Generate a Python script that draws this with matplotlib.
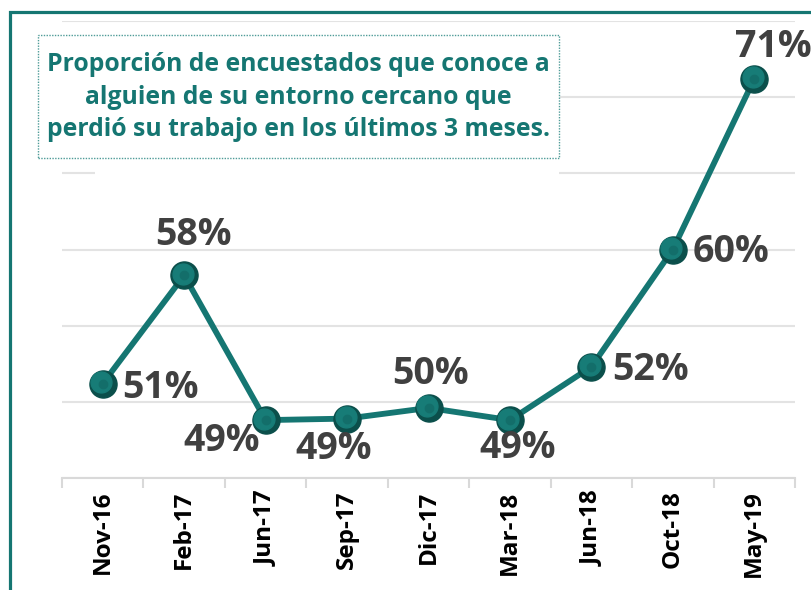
import matplotlib.pyplot as plt
from matplotlib.patches import Rectangle
from matplotlib.transforms import offset_copy

meses = ["Nov-16", "Feb-17", "Jun-17", "Sep-17", "Dic-17", "Mar-18", "Jun-18", "Oct-18", "May-19"]
valores = [51.2, 58.3, 48.8, 48.9, 49.6, 48.8, 52.3, 60.0, 71.2]
# desplazamiento de cada etiqueta respecto al punto (pixeles)
desp = [(58, -4), (9, 40), (-44, -21), (-13, -30), (2, 34), (8, -28), (59, -3), (58, -3), (19, 32)]

titulo = ("Proporción de encuestados que conoce a\n"
          "alguien de su entorno cercano que\n"
          "perdió su trabajo en los últimos 3 meses.")

teal = "#157672"
gris = "#404040"
plt.rcParams["font.family"] = ["Open Sans", "DejaVu Sans"]

fig = plt.figure(figsize=(8.11, 5.9), dpi=100)
W, H = 811, 590
ax = fig.add_axes([62 / W, 1 - 478 / H, (795 - 62) / W, (478 - 21) / H])

x = list(range(len(meses)))
ax.plot(x, valores, color=teal, lw=4.2, zorder=3, solid_capstyle="round")
ax.plot(x, valores, ls="none", marker="o", ms=19.5, mfc="#0b4f4b", mec="#0b4f4b", zorder=4)
tr = offset_copy(ax.transData, fig=fig, x=-1.5, y=1.5, units="dots")
ax.plot(x, valores, ls="none", marker="o", ms=15, mfc="#177c77", mec="#177c77", transform=tr, zorder=5)
ax.plot(x, valores, ls="none", marker="o", ms=6, mfc="#136e6a", mec="#136e6a", zorder=6)

for xi, v, (dx, dy) in zip(x, valores, desp):
    ax.annotate(f"{v:.0f}%", (xi, v), xytext=(dx, dy), textcoords="offset pixels",
                ha="center", va="center", fontsize=27, fontweight="bold", color=gris, zorder=7)

ax.set_xlim(-0.5, len(meses) - 0.5)
ax.set_ylim(45, 75)
ax.set_yticks([45, 50, 55, 60, 65, 70, 75])
ax.yaxis.grid(True, color="#e3e3e3", lw=1.5, zorder=0)
ax.tick_params(axis="y", length=0, labelleft=False)
for s in ["top", "right", "left"]:
    ax.spines[s].set_visible(False)
ax.spines["bottom"].set_color("#d9d9d9")
ax.spines["bottom"].set_linewidth(1.5)

ax.set_xticks(x)
ax.set_xticklabels(meses, rotation=90, fontsize=17.5, fontweight="bold", color="black")
ax.set_xticks([i - 0.5 for i in range(len(meses) + 1)], minor=True)
ax.tick_params(axis="x", which="major", length=0, pad=9)
ax.tick_params(axis="x", which="minor", length=7, width=1.5, color="#d9d9d9")

# zona blanca detras del titulo
fig.patches.append(Rectangle((95 / W, 1 - 180 / H), (559 - 95) / W, 25 / H,
                             transform=fig.transFigure, facecolor="white", edgecolor="none", zorder=2))
fig.patches.append(Rectangle((38 / W, 1 - 158 / H), (559 - 38) / W, (158 - 35) / H,
                             transform=fig.transFigure, facecolor="white", edgecolor="#4f9c98",
                             lw=1, ls=(0, (1, 1)), zorder=2))
fig.text(298.5 / W, 1 - 97 / H, titulo, ha="center", va="center", fontsize=17.8,
         fontweight="bold", color=teal, linespacing=1.42, zorder=3)

# marco del grafico
fig.patches.append(Rectangle((9.5 / W, -0.1), 1.2, 1.1 - 11.5 / H, transform=fig.transFigure,
                             facecolor="none", edgecolor=teal, lw=2.3, zorder=1))

fig.savefig("out.png", dpi=100)
